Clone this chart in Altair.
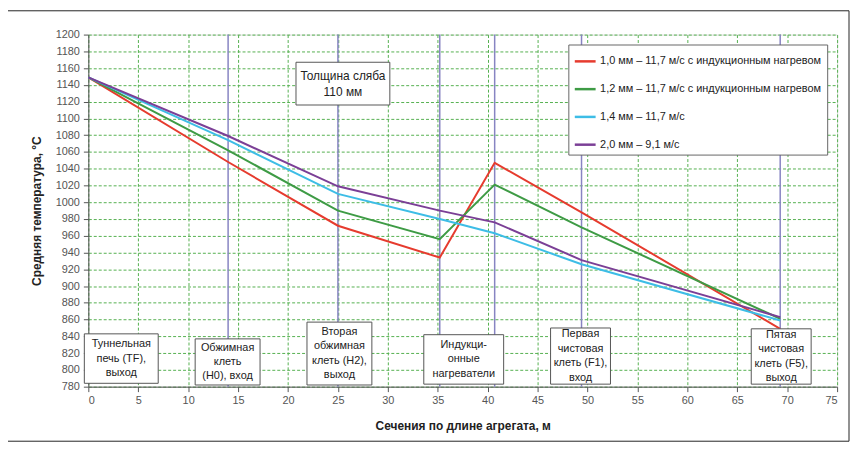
import altair as alt
import pandas as pd

# ---- data ----
sections = [0, 14, 25, 35.2, 40.7, 49.4, 69.3]
series_names = [
    "1,0 мм – 11,7 м/с с индукционным нагревом",
    "1,2 мм – 11,7 м/с с индукционным нагревом",
    "1,4 мм – 11,7 м/с",
    "2,0 мм – 9,1 м/с",
]
temp_red = [1149, 1048, 972, 934, 1047, 988, 849]
temp_green = [1149, 1062, 990, 956, 1021, 970, 861]
temp_cyan = [1149, 1074, 1010, 980, 963, 926, 859]
temp_purple = [1149, 1079, 1019, 990, 976, 931, 863]
series_colors = ["#e63b2e", "#3e9b45", "#3dbde6", "#7b3f96"]

divider_x = [14, 25, 35.2, 40.7, 49.4, 69.3]

box_labels = [
    "Туннельная\nпечь (TF),\nвыход",
    "Обжимная\nклеть\n(H0), вход",
    "Вторая\nобжимная\nклеть (H2),\nвыход",
    "Индукци-\nонные\nнагреватели",
    "Первая\nчистовая\nклеть (F1),\nвход",
    "Пятая\nчистовая\nклеть (F5),\nвыход",
]
box_x1 = [-0.4, 10.7, 21.9, 33.6, 46.3, 66.4]
box_x2 = [7.0, 17.2, 28.4, 41.6, 52.3, 72.4]
box_y1 = [784, 782, 782, 783, 783, 783]
box_y2 = [843, 837, 857, 842, 850, 849]

note_label = ["Толщина сляба\n110 мм"]
note_x1 = [20.8]
note_x2 = [30.2]
note_y1 = [1116]
note_y2 = [1167]

x_ticks = list(range(0, 80, 5))
y_ticks = list(range(780, 1220, 20))

# ---- layout constants ----
W, H = 755, 355
Y_MIN, Y_MAX = 780, 1200
PX_PER_UNIT = H / (Y_MAX - Y_MIN)
BOX_LH = 14.5
NOTE_LH = 16

# ---- tables ----
rows = []
for name, vals in zip(series_names, [temp_red, temp_green, temp_cyan, temp_purple]):
    for xv, yv in zip(sections, vals):
        rows.append({"series": name, "x": xv, "t": yv})
df = pd.DataFrame(rows)

df_div = pd.DataFrame({"x": divider_x})


def box_table(labels, x1, x2, y1, y2, lh):
    d = pd.DataFrame({"label": labels, "x1": x1, "x2": x2, "y1": y1, "y2": y2})
    d["xc"] = (d.x1 + d.x2) / 2
    nlines = d.label.str.count("\n") + 1
    # Vega places the first line at the anchor; shift up so the block is centred
    d["yt"] = (d.y1 + d.y2) / 2 + (nlines - 1) / 2 * lh / PX_PER_UNIT
    return d


df_box = box_table(box_labels, box_x1, box_x2, box_y1, box_y2, BOX_LH)
df_note = box_table(note_label, note_x1, note_x2, note_y1, note_y2, NOTE_LH)

FONT = "Liberation Sans"

xscale = alt.Scale(domain=[0, 75], nice=False, zero=False)
yscale = alt.Scale(domain=[Y_MIN, Y_MAX], nice=False, zero=False)

xaxis = alt.Axis(
    values=x_ticks, format="d", labelOverlap=False,
    title="Сечения по длине агрегата, м", grid=True,
    gridColor="#55b050", gridDash=[3, 2], gridWidth=1,
    domainColor="#555", tickColor="#555", tickSize=5,
    labelColor="#555", labelFont=FONT, labelFontSize=11, labelPadding=3,
    titleFont=FONT, titleFontSize=12, titleFontWeight="bold", titleColor="#222",
    titlePadding=15,
)
yaxis = alt.Axis(
    values=y_ticks, format="d", labelOverlap=False,
    title="Средняя температура, °C", grid=True,
    gridColor="#55b050", gridDash=[3, 2], gridWidth=1,
    domainColor="#555", tickColor="#555", tickSize=5,
    labelColor="#555", labelFont=FONT, labelFontSize=11, labelPadding=4,
    titleFont=FONT, titleFontSize=12, titleFontWeight="bold", titleColor="#222",
    titlePadding=12,
)


def X(field):
    return alt.X(field, type="quantitative", scale=xscale, axis=xaxis)


def Y(field):
    return alt.Y(field, type="quantitative", scale=yscale, axis=yaxis)


frame = alt.Chart(alt.Data(values=[{"a": 1}])).mark_rect(
    filled=False, stroke="#222", strokeWidth=1, clip=False
).encode(
    x=alt.value(-82), x2=alt.value(767), y=alt.value(-24), y2=alt.value(410)
)

dividers = alt.Chart(df_div).mark_rule(color="#8784c2", strokeWidth=1.5).encode(
    x=X("x"),
)

lines = alt.Chart(df).mark_line(strokeWidth=2).encode(
    x=X("x"),
    y=Y("t"),
    color=alt.Color(
        "series:N",
        scale=alt.Scale(domain=series_names, range=series_colors),
        legend=alt.Legend(
            title=None, orient="none", legendX=484, legendY=10,
            fillColor="white", strokeColor="#666", padding=5, rowPadding=11,
            symbolType="stroke", symbolSize=441, symbolStrokeWidth=2.5,
            labelFont=FONT, labelFontSize=11, labelColor="#222",
            labelLimit=400, labelOffset=3,
        ),
    ),
    order="x:Q",
)

boxes = alt.Chart(df_box).mark_rect(fill="white", stroke="#555", strokeWidth=1).encode(
    x=X("x1"), x2="x2:Q", y=Y("y1"), y2="y2:Q",
)
box_text = alt.Chart(df_box).mark_text(
    font=FONT, fontSize=11, lineHeight=BOX_LH, lineBreak="\n",
    align="center", baseline="middle", color="#222",
).encode(x=X("xc"), y=Y("yt"), text="label:N")

note_box = alt.Chart(df_note).mark_rect(fill="white", stroke="#555", strokeWidth=1).encode(
    x=X("x1"), x2="x2:Q", y=Y("y1"), y2="y2:Q",
)
note_text = alt.Chart(df_note).mark_text(
    font=FONT, fontSize=12, lineHeight=NOTE_LH, lineBreak="\n",
    align="center", baseline="middle", color="#222",
).encode(x=X("xc"), y=Y("yt"), text="label:N")

chart = alt.layer(
    dividers, lines, boxes, box_text, note_box, note_text, frame
).properties(
    width=W, height=H,
    autosize=alt.AutoSizeParams(type="none"),
    padding={"left": 81, "top": 25, "right": 13, "bottom": 56},
).configure_view(fill="#fcfbd8", stroke=None).configure(background="white")

chart.save("out.html", embed_options={"renderer": "svg", "actions": False})
